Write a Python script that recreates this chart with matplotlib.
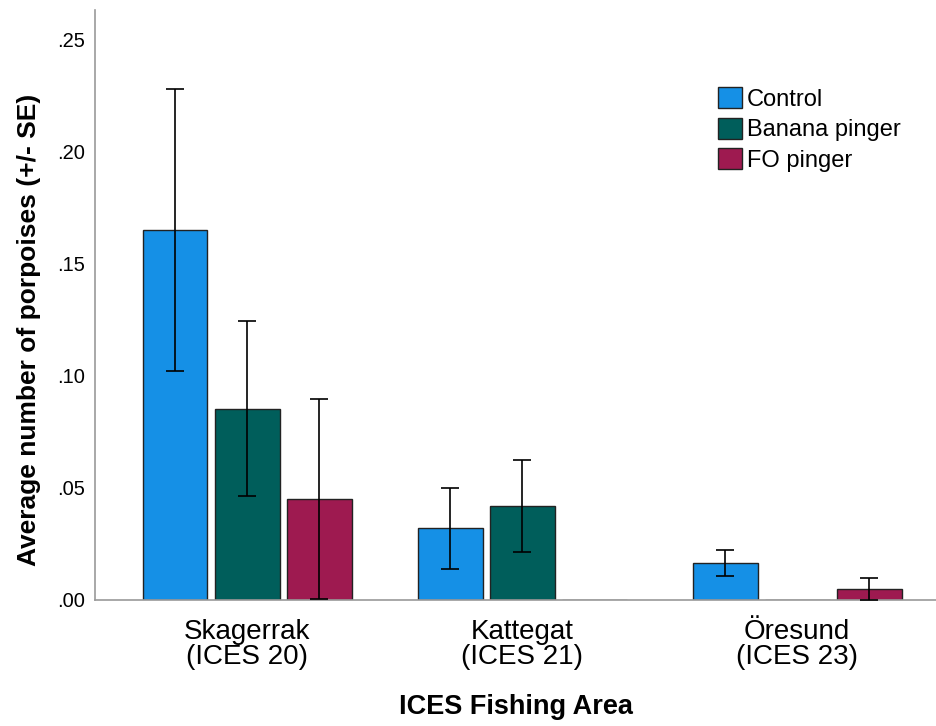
import matplotlib
matplotlib.use("Agg")
import numpy as np
import matplotlib.pyplot as plt

# mean number of porpoises and standard errors per area / treatment
areas = ["Skagerrak\n(ICES 20)", "Kattegat\n(ICES 21)", "Öresund\n(ICES 23)"]
groups = ["Control", "Banana pinger", "FO pinger"]
control_mean = [0.165, 0.032, 0.0165]
control_se = [0.063, 0.018, 0.006]
banana_mean = [0.0853, 0.042, 0.0]
banana_se = [0.039, 0.0205, 0.0]
fo_mean = [0.045, 0.0, 0.0049]
fo_se = [0.0447, 0.0, 0.0049]
colors = ["#1590e6", "#005e5b", "#9e1a50"]
y_ticks = [0.0, 0.05, 0.10, 0.15, 0.20, 0.25]

plt.rcParams["font.family"] = ["Liberation Sans", "DejaVu Sans"]

fig = plt.figure(figsize=(9.36, 7.26), dpi=100)
ax = fig.add_axes([0.1015, 0.1736, 0.8985, 0.8124])

x = np.arange(len(areas))
width = 0.236
pitch = 0.262
means = [control_mean, banana_mean, fo_mean]
ses = [control_se, banana_se, fo_se]
for i, (m, s) in enumerate(zip(means, ses)):
    pos = x + (i - 1) * pitch
    ax.bar(pos, m, width, color=colors[i], edgecolor="#222222", linewidth=1.0,
           label=groups[i], zorder=2)
    # only draw error bars where there's a non-zero mean
    m_arr = np.array(m)
    s_arr = np.array(s)
    keep = m_arr > 0
    ax.errorbar(pos[keep], m_arr[keep], yerr=s_arr[keep], fmt="none",
                ecolor="black", elinewidth=1.2, capsize=6.5, capthick=1.2, zorder=3)

ax.set_xlim(-0.553, 2.505)
ax.set_ylim(0, 0.263)
ax.set_xticks(x)
ax.set_xticklabels(areas, fontsize=20, linespacing=0.95)
ax.set_yticks(y_ticks)
ax.set_yticklabels([("%.2f" % v).lstrip("0") for v in y_ticks], fontsize=14.5)
ax.tick_params(axis="x", length=0, pad=14)
ax.tick_params(axis="y", length=0, pad=7)

for side in ["top", "right"]:
    ax.spines[side].set_visible(False)
for side in ["left", "bottom"]:
    ax.spines[side].set_color("#9a9a9a")
    ax.spines[side].set_linewidth(1.2)

ax.set_xlabel("ICES Fishing Area", fontsize=19.5, fontweight="bold", labelpad=17)
ax.set_ylabel("Average number of porpoises (+/- SE)", fontsize=19,
              fontweight="bold")
ax.yaxis.set_label_coords(-0.064, 0.458)

leg = ax.legend(loc="upper left", bbox_to_anchor=(0.727, 0.89), frameon=False,
                fontsize=17, handlelength=1.0, handleheight=1.0,
                handletextpad=0.2, labelspacing=0.3, borderpad=0)

fig.savefig("out.png", dpi=100)
